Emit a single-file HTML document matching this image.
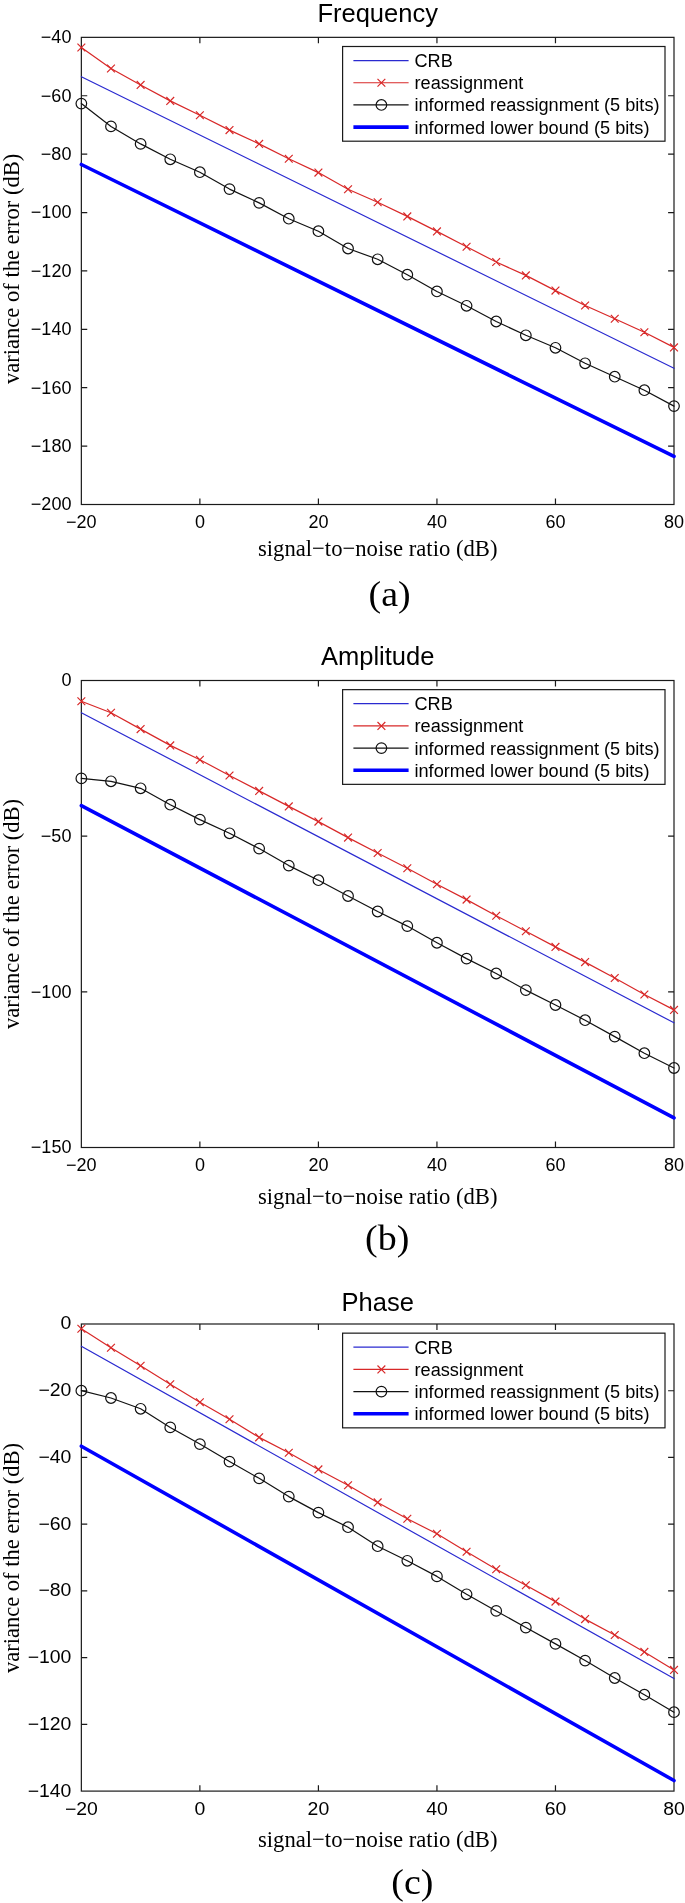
<!DOCTYPE html>
<html><head><meta charset="utf-8"><title>Figure</title><style>
html,body{margin:0;padding:0;background:#fff;}
svg{display:block;will-change:transform}
text{font-family:"Liberation Sans",sans-serif;fill:#000}
.tk{font-size:18px}
.lg{font-size:18.15px}
.ti{font-size:25.5px}
.sr{font-family:"Liberation Serif",serif;font-size:24px}
.cp{font-family:"Liberation Serif",serif;font-size:35.8px}
</style></head>
<body><svg width="685" height="1903" viewBox="0 0 685 1903">
<rect width="685" height="1903" fill="#fff"/>
<rect x="81.35" y="37.35" width="592.65" height="467.15" fill="none" stroke="#1a1a1a" stroke-width="1.2"/>
<path d="M199.88 504.5v-5.9M199.88 37.35v5.9M318.41 504.5v-5.9M318.41 37.35v5.9M436.94 504.5v-5.9M436.94 37.35v5.9M555.47 504.5v-5.9M555.47 37.35v5.9M81.35 95.74h5.9M674 95.74h-5.9M81.35 154.14h5.9M674 154.14h-5.9M81.35 212.53h5.9M674 212.53h-5.9M81.35 270.93h5.9M674 270.93h-5.9M81.35 329.32h5.9M674 329.32h-5.9M81.35 387.71h5.9M674 387.71h-5.9M81.35 446.11h5.9M674 446.11h-5.9" stroke="#1a1a1a" stroke-width="1.2" fill="none"/>
<line x1="81.35" y1="164.5" x2="674" y2="456.4" stroke="#0000ff" stroke-width="3.6" stroke-linecap="round"/>
<line x1="81.35" y1="76.7" x2="674" y2="368.3" stroke="#2a2ad0" stroke-width="1.2" stroke-linecap="round"/>
<polyline points="81.35,47.5 110.98,68.5 140.62,84.9 170.25,100.9 199.88,115.3 229.51,130.1 259.14,143.9 288.78,158.8 318.41,172.6 348.04,189.2 377.67,202.3 407.31,216.4 436.94,231.4 466.57,246.8 496.2,262 525.84,275.4 555.47,290.6 585.1,305.5 614.74,318.8 644.37,332.3 674,347.4" fill="none" stroke="#d82828" stroke-width="1.2" stroke-linejoin="round" stroke-linecap="round"/>
<path d="M77.45 43.6L85.25 51.4M77.45 51.4L85.25 43.6M107.08 64.6L114.88 72.4M107.08 72.4L114.88 64.6M136.72 81L144.52 88.8M136.72 88.8L144.52 81M166.35 97L174.15 104.8M166.35 104.8L174.15 97M195.98 111.4L203.78 119.2M195.98 119.2L203.78 111.4M225.61 126.2L233.41 134M225.61 134L233.41 126.2M255.24 140L263.04 147.8M255.24 147.8L263.04 140M284.88 154.9L292.68 162.7M284.88 162.7L292.68 154.9M314.51 168.7L322.31 176.5M314.51 176.5L322.31 168.7M344.14 185.3L351.94 193.1M344.14 193.1L351.94 185.3M373.77 198.4L381.57 206.2M373.77 206.2L381.57 198.4M403.41 212.5L411.21 220.3M403.41 220.3L411.21 212.5M433.04 227.5L440.84 235.3M433.04 235.3L440.84 227.5M462.67 242.9L470.47 250.7M462.67 250.7L470.47 242.9M492.3 258.1L500.1 265.9M492.3 265.9L500.1 258.1M521.94 271.5L529.74 279.3M521.94 279.3L529.74 271.5M551.57 286.7L559.37 294.5M551.57 294.5L559.37 286.7M581.2 301.6L589 309.4M581.2 309.4L589 301.6M610.84 314.9L618.63 322.7M610.84 322.7L618.63 314.9M640.47 328.4L648.27 336.2M640.47 336.2L648.27 328.4M670.1 343.5L677.9 351.3M670.1 351.3L677.9 343.5" stroke="#d82828" stroke-width="1.2" fill="none"/>
<polyline points="81.35,103.6 110.98,126.4 140.62,143.9 170.25,159.3 199.88,172.2 229.51,189.1 259.14,202.85 288.78,218.7 318.41,231.2 348.04,248.5 377.67,259.3 407.31,274.7 436.94,291.45 466.57,305.8 496.2,321.5 525.84,335.3 555.47,347.8 585.1,363.3 614.74,376.7 644.37,390.2 674,406.1" fill="none" stroke="#111" stroke-width="1.2" stroke-linejoin="round" stroke-linecap="round"/>
<circle cx="81.35" cy="103.6" r="5.3" fill="none" stroke="#111" stroke-width="1.2"/>
<circle cx="110.98" cy="126.4" r="5.3" fill="none" stroke="#111" stroke-width="1.2"/>
<circle cx="140.62" cy="143.9" r="5.3" fill="none" stroke="#111" stroke-width="1.2"/>
<circle cx="170.25" cy="159.3" r="5.3" fill="none" stroke="#111" stroke-width="1.2"/>
<circle cx="199.88" cy="172.2" r="5.3" fill="none" stroke="#111" stroke-width="1.2"/>
<circle cx="229.51" cy="189.1" r="5.3" fill="none" stroke="#111" stroke-width="1.2"/>
<circle cx="259.14" cy="202.85" r="5.3" fill="none" stroke="#111" stroke-width="1.2"/>
<circle cx="288.78" cy="218.7" r="5.3" fill="none" stroke="#111" stroke-width="1.2"/>
<circle cx="318.41" cy="231.2" r="5.3" fill="none" stroke="#111" stroke-width="1.2"/>
<circle cx="348.04" cy="248.5" r="5.3" fill="none" stroke="#111" stroke-width="1.2"/>
<circle cx="377.67" cy="259.3" r="5.3" fill="none" stroke="#111" stroke-width="1.2"/>
<circle cx="407.31" cy="274.7" r="5.3" fill="none" stroke="#111" stroke-width="1.2"/>
<circle cx="436.94" cy="291.45" r="5.3" fill="none" stroke="#111" stroke-width="1.2"/>
<circle cx="466.57" cy="305.8" r="5.3" fill="none" stroke="#111" stroke-width="1.2"/>
<circle cx="496.2" cy="321.5" r="5.3" fill="none" stroke="#111" stroke-width="1.2"/>
<circle cx="525.84" cy="335.3" r="5.3" fill="none" stroke="#111" stroke-width="1.2"/>
<circle cx="555.47" cy="347.8" r="5.3" fill="none" stroke="#111" stroke-width="1.2"/>
<circle cx="585.1" cy="363.3" r="5.3" fill="none" stroke="#111" stroke-width="1.2"/>
<circle cx="614.74" cy="376.7" r="5.3" fill="none" stroke="#111" stroke-width="1.2"/>
<circle cx="644.37" cy="390.2" r="5.3" fill="none" stroke="#111" stroke-width="1.2"/>
<circle cx="674" cy="406.1" r="5.3" fill="none" stroke="#111" stroke-width="1.2"/>
<text transform="translate(71.4 43.25) scale(1 1)" text-anchor="end" class="tk">−40</text>
<text transform="translate(71.4 101.64) scale(1 1)" text-anchor="end" class="tk">−60</text>
<text transform="translate(71.4 160.04) scale(1 1)" text-anchor="end" class="tk">−80</text>
<text transform="translate(71.4 218.43) scale(1 1)" text-anchor="end" class="tk">−100</text>
<text transform="translate(71.4 276.82) scale(1 1)" text-anchor="end" class="tk">−120</text>
<text transform="translate(71.4 335.22) scale(1 1)" text-anchor="end" class="tk">−140</text>
<text transform="translate(71.4 393.61) scale(1 1)" text-anchor="end" class="tk">−160</text>
<text transform="translate(71.4 452.01) scale(1 1)" text-anchor="end" class="tk">−180</text>
<text transform="translate(71.4 510.4) scale(1 1)" text-anchor="end" class="tk">−200</text>
<text transform="translate(81.35 528.1) scale(1 1)" text-anchor="middle" class="tk">−20</text>
<text transform="translate(199.88 528.1) scale(1 1)" text-anchor="middle" class="tk">0</text>
<text transform="translate(318.41 528.1) scale(1 1)" text-anchor="middle" class="tk">20</text>
<text transform="translate(436.94 528.1) scale(1 1)" text-anchor="middle" class="tk">40</text>
<text transform="translate(555.47 528.1) scale(1 1)" text-anchor="middle" class="tk">60</text>
<text transform="translate(674 528.1) scale(1 1)" text-anchor="middle" class="tk">80</text>
<text x="377.68" y="21.9" text-anchor="middle" class="ti">Frequency</text>
<rect x="342.6" y="46.5" width="322.4" height="94.7" fill="#fff" stroke="#1a1a1a" stroke-width="1.2"/>
<line x1="353.4" y1="60.55" x2="408.6" y2="60.55" stroke="#2a2ad0" stroke-width="1.2"/>
<line x1="353.4" y1="82.75" x2="408.6" y2="82.75" stroke="#d82828" stroke-width="1.2"/>
<path d="M377.5 78.85L385.3 86.65M377.5 86.65L385.3 78.85" stroke="#d82828" stroke-width="1.2"/>
<line x1="353.4" y1="104.95" x2="408.6" y2="104.95" stroke="#111" stroke-width="1.2"/>
<circle cx="381.4" cy="104.95" r="5.3" fill="none" stroke="#111" stroke-width="1.2"/>
<line x1="353.4" y1="127.15" x2="408.6" y2="127.15" stroke="#0000ff" stroke-width="3.6"/>
<text x="414.5" y="66.95" class="lg">CRB</text>
<text x="414.5" y="89.15" class="lg">reassignment</text>
<text x="414.5" y="111.35" class="lg">informed reassignment (5 bits)</text>
<text x="414.5" y="133.55" class="lg">informed lower bound (5 bits)</text>
<text transform="translate(377.7 556.2) scale(0.945 1)" text-anchor="middle" class="sr">signal−to−noise ratio (dB)</text>
<text transform="translate(19.0 383.9) rotate(-90) scale(0.939 1)" x="0" y="0" class="sr">variance of the error (dB)</text>
<text transform="translate(368.5 606.1) scale(1.06 1)" class="cp">(a)</text>
<rect x="81.35" y="680.5" width="592.65" height="467" fill="none" stroke="#1a1a1a" stroke-width="1.2"/>
<path d="M199.88 1147.5v-5.9M199.88 680.5v5.9M318.41 1147.5v-5.9M318.41 680.5v5.9M436.94 1147.5v-5.9M436.94 680.5v5.9M555.47 1147.5v-5.9M555.47 680.5v5.9M81.35 836.17h5.9M674 836.17h-5.9M81.35 991.83h5.9M674 991.83h-5.9" stroke="#1a1a1a" stroke-width="1.2" fill="none"/>
<line x1="81.35" y1="805.6" x2="674" y2="1117.8" stroke="#0000ff" stroke-width="3.6" stroke-linecap="round"/>
<line x1="81.35" y1="712.7" x2="674" y2="1022.8" stroke="#2a2ad0" stroke-width="1.2" stroke-linecap="round"/>
<polyline points="81.35,701.3 110.98,712.7 140.62,729.1 170.25,745.4 199.88,759.7 229.51,775.5 259.14,790.9 288.78,806.4 318.41,821.6 348.04,837.6 377.67,853 407.31,868.2 436.94,884.25 466.57,899.6 496.2,915.7 525.84,931.2 555.47,946.9 585.1,962.1 614.74,977.95 644.37,994.5 674,1009.9" fill="none" stroke="#d82828" stroke-width="1.2" stroke-linejoin="round" stroke-linecap="round"/>
<path d="M77.45 697.4L85.25 705.2M77.45 705.2L85.25 697.4M107.08 708.8L114.88 716.6M107.08 716.6L114.88 708.8M136.72 725.2L144.52 733M136.72 733L144.52 725.2M166.35 741.5L174.15 749.3M166.35 749.3L174.15 741.5M195.98 755.8L203.78 763.6M195.98 763.6L203.78 755.8M225.61 771.6L233.41 779.4M225.61 779.4L233.41 771.6M255.24 787L263.04 794.8M255.24 794.8L263.04 787M284.88 802.5L292.68 810.3M284.88 810.3L292.68 802.5M314.51 817.7L322.31 825.5M314.51 825.5L322.31 817.7M344.14 833.7L351.94 841.5M344.14 841.5L351.94 833.7M373.77 849.1L381.57 856.9M373.77 856.9L381.57 849.1M403.41 864.3L411.21 872.1M403.41 872.1L411.21 864.3M433.04 880.35L440.84 888.15M433.04 888.15L440.84 880.35M462.67 895.7L470.47 903.5M462.67 903.5L470.47 895.7M492.3 911.8L500.1 919.6M492.3 919.6L500.1 911.8M521.94 927.3L529.74 935.1M521.94 935.1L529.74 927.3M551.57 943L559.37 950.8M551.57 950.8L559.37 943M581.2 958.2L589 966M581.2 966L589 958.2M610.84 974.05L618.63 981.85M610.84 981.85L618.63 974.05M640.47 990.6L648.27 998.4M640.47 998.4L648.27 990.6M670.1 1006L677.9 1013.8M670.1 1013.8L677.9 1006" stroke="#d82828" stroke-width="1.2" fill="none"/>
<polyline points="81.35,778.4 110.98,781.3 140.62,788.3 170.25,804.7 199.88,819.6 229.51,833.3 259.14,848.6 288.78,865.6 318.41,880.2 348.04,896 377.67,911.5 407.31,926.1 436.94,942.75 466.57,958.6 496.2,973.5 525.84,990.1 555.47,1005 585.1,1020.2 614.74,1036.6 644.37,1053.2 674,1068" fill="none" stroke="#111" stroke-width="1.2" stroke-linejoin="round" stroke-linecap="round"/>
<circle cx="81.35" cy="778.4" r="5.3" fill="none" stroke="#111" stroke-width="1.2"/>
<circle cx="110.98" cy="781.3" r="5.3" fill="none" stroke="#111" stroke-width="1.2"/>
<circle cx="140.62" cy="788.3" r="5.3" fill="none" stroke="#111" stroke-width="1.2"/>
<circle cx="170.25" cy="804.7" r="5.3" fill="none" stroke="#111" stroke-width="1.2"/>
<circle cx="199.88" cy="819.6" r="5.3" fill="none" stroke="#111" stroke-width="1.2"/>
<circle cx="229.51" cy="833.3" r="5.3" fill="none" stroke="#111" stroke-width="1.2"/>
<circle cx="259.14" cy="848.6" r="5.3" fill="none" stroke="#111" stroke-width="1.2"/>
<circle cx="288.78" cy="865.6" r="5.3" fill="none" stroke="#111" stroke-width="1.2"/>
<circle cx="318.41" cy="880.2" r="5.3" fill="none" stroke="#111" stroke-width="1.2"/>
<circle cx="348.04" cy="896" r="5.3" fill="none" stroke="#111" stroke-width="1.2"/>
<circle cx="377.67" cy="911.5" r="5.3" fill="none" stroke="#111" stroke-width="1.2"/>
<circle cx="407.31" cy="926.1" r="5.3" fill="none" stroke="#111" stroke-width="1.2"/>
<circle cx="436.94" cy="942.75" r="5.3" fill="none" stroke="#111" stroke-width="1.2"/>
<circle cx="466.57" cy="958.6" r="5.3" fill="none" stroke="#111" stroke-width="1.2"/>
<circle cx="496.2" cy="973.5" r="5.3" fill="none" stroke="#111" stroke-width="1.2"/>
<circle cx="525.84" cy="990.1" r="5.3" fill="none" stroke="#111" stroke-width="1.2"/>
<circle cx="555.47" cy="1005" r="5.3" fill="none" stroke="#111" stroke-width="1.2"/>
<circle cx="585.1" cy="1020.2" r="5.3" fill="none" stroke="#111" stroke-width="1.2"/>
<circle cx="614.74" cy="1036.6" r="5.3" fill="none" stroke="#111" stroke-width="1.2"/>
<circle cx="644.37" cy="1053.2" r="5.3" fill="none" stroke="#111" stroke-width="1.2"/>
<circle cx="674" cy="1068" r="5.3" fill="none" stroke="#111" stroke-width="1.2"/>
<text transform="translate(71.4 686.4) scale(1 1)" text-anchor="end" class="tk">0</text>
<text transform="translate(71.4 842.07) scale(1 1)" text-anchor="end" class="tk">−50</text>
<text transform="translate(71.4 997.73) scale(1 1)" text-anchor="end" class="tk">−100</text>
<text transform="translate(71.4 1153.4) scale(1 1)" text-anchor="end" class="tk">−150</text>
<text transform="translate(81.35 1171.1) scale(1 1)" text-anchor="middle" class="tk">−20</text>
<text transform="translate(199.88 1171.1) scale(1 1)" text-anchor="middle" class="tk">0</text>
<text transform="translate(318.41 1171.1) scale(1 1)" text-anchor="middle" class="tk">20</text>
<text transform="translate(436.94 1171.1) scale(1 1)" text-anchor="middle" class="tk">40</text>
<text transform="translate(555.47 1171.1) scale(1 1)" text-anchor="middle" class="tk">60</text>
<text transform="translate(674 1171.1) scale(1 1)" text-anchor="middle" class="tk">80</text>
<text x="377.68" y="664.5" text-anchor="middle" class="ti">Amplitude</text>
<rect x="342.6" y="689.65" width="322.4" height="94.7" fill="#fff" stroke="#1a1a1a" stroke-width="1.2"/>
<line x1="353.4" y1="703.7" x2="408.6" y2="703.7" stroke="#2a2ad0" stroke-width="1.2"/>
<line x1="353.4" y1="725.9" x2="408.6" y2="725.9" stroke="#d82828" stroke-width="1.2"/>
<path d="M377.5 722L385.3 729.8M377.5 729.8L385.3 722" stroke="#d82828" stroke-width="1.2"/>
<line x1="353.4" y1="748.1" x2="408.6" y2="748.1" stroke="#111" stroke-width="1.2"/>
<circle cx="381.4" cy="748.1" r="5.3" fill="none" stroke="#111" stroke-width="1.2"/>
<line x1="353.4" y1="770.3" x2="408.6" y2="770.3" stroke="#0000ff" stroke-width="3.6"/>
<text x="414.5" y="710.1" class="lg">CRB</text>
<text x="414.5" y="732.3" class="lg">reassignment</text>
<text x="414.5" y="754.5" class="lg">informed reassignment (5 bits)</text>
<text x="414.5" y="776.7" class="lg">informed lower bound (5 bits)</text>
<text transform="translate(377.7 1203.5) scale(0.945 1)" text-anchor="middle" class="sr">signal−to−noise ratio (dB)</text>
<text transform="translate(19.0 1029) rotate(-90) scale(0.939 1)" x="0" y="0" class="sr">variance of the error (dB)</text>
<text transform="translate(365.1 1249.5) scale(1.06 1)" class="cp">(b)</text>
<rect x="81.35" y="1324" width="592.65" height="467.1" fill="none" stroke="#1a1a1a" stroke-width="1.2"/>
<path d="M199.88 1791.1v-5.9M199.88 1324v5.9M318.41 1791.1v-5.9M318.41 1324v5.9M436.94 1791.1v-5.9M436.94 1324v5.9M555.47 1791.1v-5.9M555.47 1324v5.9M81.35 1390.73h5.9M674 1390.73h-5.9M81.35 1457.46h5.9M674 1457.46h-5.9M81.35 1524.19h5.9M674 1524.19h-5.9M81.35 1590.91h5.9M674 1590.91h-5.9M81.35 1657.64h5.9M674 1657.64h-5.9M81.35 1724.37h5.9M674 1724.37h-5.9" stroke="#1a1a1a" stroke-width="1.2" fill="none"/>
<line x1="81.35" y1="1446.2" x2="674" y2="1780.5" stroke="#0000ff" stroke-width="3.6" stroke-linecap="round"/>
<line x1="81.35" y1="1346.3" x2="674" y2="1678.6" stroke="#2a2ad0" stroke-width="1.2" stroke-linecap="round"/>
<polyline points="81.35,1328.8 110.98,1347.7 140.62,1365.8 170.25,1384.2 199.88,1402.3 229.51,1419.3 259.14,1437.35 288.78,1452.8 318.41,1469.4 348.04,1485.2 377.67,1502.4 407.31,1518.8 436.94,1533.75 466.57,1551.7 496.2,1569.2 525.84,1585.3 555.47,1601.6 585.1,1619.1 614.74,1635 644.37,1651.9 674,1669.9" fill="none" stroke="#d82828" stroke-width="1.2" stroke-linejoin="round" stroke-linecap="round"/>
<path d="M77.45 1324.9L85.25 1332.7M77.45 1332.7L85.25 1324.9M107.08 1343.8L114.88 1351.6M107.08 1351.6L114.88 1343.8M136.72 1361.9L144.52 1369.7M136.72 1369.7L144.52 1361.9M166.35 1380.3L174.15 1388.1M166.35 1388.1L174.15 1380.3M195.98 1398.4L203.78 1406.2M195.98 1406.2L203.78 1398.4M225.61 1415.4L233.41 1423.2M225.61 1423.2L233.41 1415.4M255.24 1433.45L263.04 1441.25M255.24 1441.25L263.04 1433.45M284.88 1448.9L292.68 1456.7M284.88 1456.7L292.68 1448.9M314.51 1465.5L322.31 1473.3M314.51 1473.3L322.31 1465.5M344.14 1481.3L351.94 1489.1M344.14 1489.1L351.94 1481.3M373.77 1498.5L381.57 1506.3M373.77 1506.3L381.57 1498.5M403.41 1514.9L411.21 1522.7M403.41 1522.7L411.21 1514.9M433.04 1529.85L440.84 1537.65M433.04 1537.65L440.84 1529.85M462.67 1547.8L470.47 1555.6M462.67 1555.6L470.47 1547.8M492.3 1565.3L500.1 1573.1M492.3 1573.1L500.1 1565.3M521.94 1581.4L529.74 1589.2M521.94 1589.2L529.74 1581.4M551.57 1597.7L559.37 1605.5M551.57 1605.5L559.37 1597.7M581.2 1615.2L589 1623M581.2 1623L589 1615.2M610.84 1631.1L618.63 1638.9M610.84 1638.9L618.63 1631.1M640.47 1648L648.27 1655.8M640.47 1655.8L648.27 1648M670.1 1666L677.9 1673.8M670.1 1673.8L677.9 1666" stroke="#d82828" stroke-width="1.2" fill="none"/>
<polyline points="81.35,1390.7 110.98,1398 140.62,1408.8 170.25,1427.4 199.88,1444.1 229.51,1461.6 259.14,1478.35 288.78,1496.6 318.41,1512.6 348.04,1527.2 377.67,1546.2 407.31,1560.8 436.94,1576.4 466.57,1594.3 496.2,1610.9 525.84,1627.6 555.47,1643.9 585.1,1660.6 614.74,1678 644.37,1694.7 674,1712.2" fill="none" stroke="#111" stroke-width="1.2" stroke-linejoin="round" stroke-linecap="round"/>
<circle cx="81.35" cy="1390.7" r="5.3" fill="none" stroke="#111" stroke-width="1.2"/>
<circle cx="110.98" cy="1398" r="5.3" fill="none" stroke="#111" stroke-width="1.2"/>
<circle cx="140.62" cy="1408.8" r="5.3" fill="none" stroke="#111" stroke-width="1.2"/>
<circle cx="170.25" cy="1427.4" r="5.3" fill="none" stroke="#111" stroke-width="1.2"/>
<circle cx="199.88" cy="1444.1" r="5.3" fill="none" stroke="#111" stroke-width="1.2"/>
<circle cx="229.51" cy="1461.6" r="5.3" fill="none" stroke="#111" stroke-width="1.2"/>
<circle cx="259.14" cy="1478.35" r="5.3" fill="none" stroke="#111" stroke-width="1.2"/>
<circle cx="288.78" cy="1496.6" r="5.3" fill="none" stroke="#111" stroke-width="1.2"/>
<circle cx="318.41" cy="1512.6" r="5.3" fill="none" stroke="#111" stroke-width="1.2"/>
<circle cx="348.04" cy="1527.2" r="5.3" fill="none" stroke="#111" stroke-width="1.2"/>
<circle cx="377.67" cy="1546.2" r="5.3" fill="none" stroke="#111" stroke-width="1.2"/>
<circle cx="407.31" cy="1560.8" r="5.3" fill="none" stroke="#111" stroke-width="1.2"/>
<circle cx="436.94" cy="1576.4" r="5.3" fill="none" stroke="#111" stroke-width="1.2"/>
<circle cx="466.57" cy="1594.3" r="5.3" fill="none" stroke="#111" stroke-width="1.2"/>
<circle cx="496.2" cy="1610.9" r="5.3" fill="none" stroke="#111" stroke-width="1.2"/>
<circle cx="525.84" cy="1627.6" r="5.3" fill="none" stroke="#111" stroke-width="1.2"/>
<circle cx="555.47" cy="1643.9" r="5.3" fill="none" stroke="#111" stroke-width="1.2"/>
<circle cx="585.1" cy="1660.6" r="5.3" fill="none" stroke="#111" stroke-width="1.2"/>
<circle cx="614.74" cy="1678" r="5.3" fill="none" stroke="#111" stroke-width="1.2"/>
<circle cx="644.37" cy="1694.7" r="5.3" fill="none" stroke="#111" stroke-width="1.2"/>
<circle cx="674" cy="1712.2" r="5.3" fill="none" stroke="#111" stroke-width="1.2"/>
<text transform="translate(71.4 1329.4) scale(1.08 1)" text-anchor="end" class="tk">0</text>
<text transform="translate(71.4 1396.13) scale(1.08 1)" text-anchor="end" class="tk">−20</text>
<text transform="translate(71.4 1462.86) scale(1.08 1)" text-anchor="end" class="tk">−40</text>
<text transform="translate(71.4 1529.59) scale(1.08 1)" text-anchor="end" class="tk">−60</text>
<text transform="translate(71.4 1596.31) scale(1.08 1)" text-anchor="end" class="tk">−80</text>
<text transform="translate(71.4 1663.04) scale(1.08 1)" text-anchor="end" class="tk">−100</text>
<text transform="translate(71.4 1729.77) scale(1.08 1)" text-anchor="end" class="tk">−120</text>
<text transform="translate(71.4 1796.5) scale(1.08 1)" text-anchor="end" class="tk">−140</text>
<text transform="translate(81.35 1814.7) scale(1.08 1)" text-anchor="middle" class="tk">−20</text>
<text transform="translate(199.88 1814.7) scale(1.08 1)" text-anchor="middle" class="tk">0</text>
<text transform="translate(318.41 1814.7) scale(1.08 1)" text-anchor="middle" class="tk">20</text>
<text transform="translate(436.94 1814.7) scale(1.08 1)" text-anchor="middle" class="tk">40</text>
<text transform="translate(555.47 1814.7) scale(1.08 1)" text-anchor="middle" class="tk">60</text>
<text transform="translate(674 1814.7) scale(1.08 1)" text-anchor="middle" class="tk">80</text>
<text x="377.68" y="1311.4" text-anchor="middle" class="ti">Phase</text>
<rect x="342.6" y="1333.15" width="322.4" height="94.7" fill="#fff" stroke="#1a1a1a" stroke-width="1.2"/>
<line x1="353.4" y1="1347.2" x2="408.6" y2="1347.2" stroke="#2a2ad0" stroke-width="1.2"/>
<line x1="353.4" y1="1369.4" x2="408.6" y2="1369.4" stroke="#d82828" stroke-width="1.2"/>
<path d="M377.5 1365.5L385.3 1373.3M377.5 1373.3L385.3 1365.5" stroke="#d82828" stroke-width="1.2"/>
<line x1="353.4" y1="1391.6" x2="408.6" y2="1391.6" stroke="#111" stroke-width="1.2"/>
<circle cx="381.4" cy="1391.6" r="5.3" fill="none" stroke="#111" stroke-width="1.2"/>
<line x1="353.4" y1="1413.8" x2="408.6" y2="1413.8" stroke="#0000ff" stroke-width="3.6"/>
<text x="414.5" y="1353.6" class="lg">CRB</text>
<text x="414.5" y="1375.8" class="lg">reassignment</text>
<text x="414.5" y="1398" class="lg">informed reassignment (5 bits)</text>
<text x="414.5" y="1420.2" class="lg">informed lower bound (5 bits)</text>
<text transform="translate(377.7 1847.4) scale(0.945 1)" text-anchor="middle" class="sr">signal−to−noise ratio (dB)</text>
<text transform="translate(19.0 1673.1) rotate(-90) scale(0.939 1)" x="0" y="0" class="sr">variance of the error (dB)</text>
<text transform="translate(391.3 1893.7) scale(1.06 1)" class="cp">(c)</text>
</svg></body></html>
